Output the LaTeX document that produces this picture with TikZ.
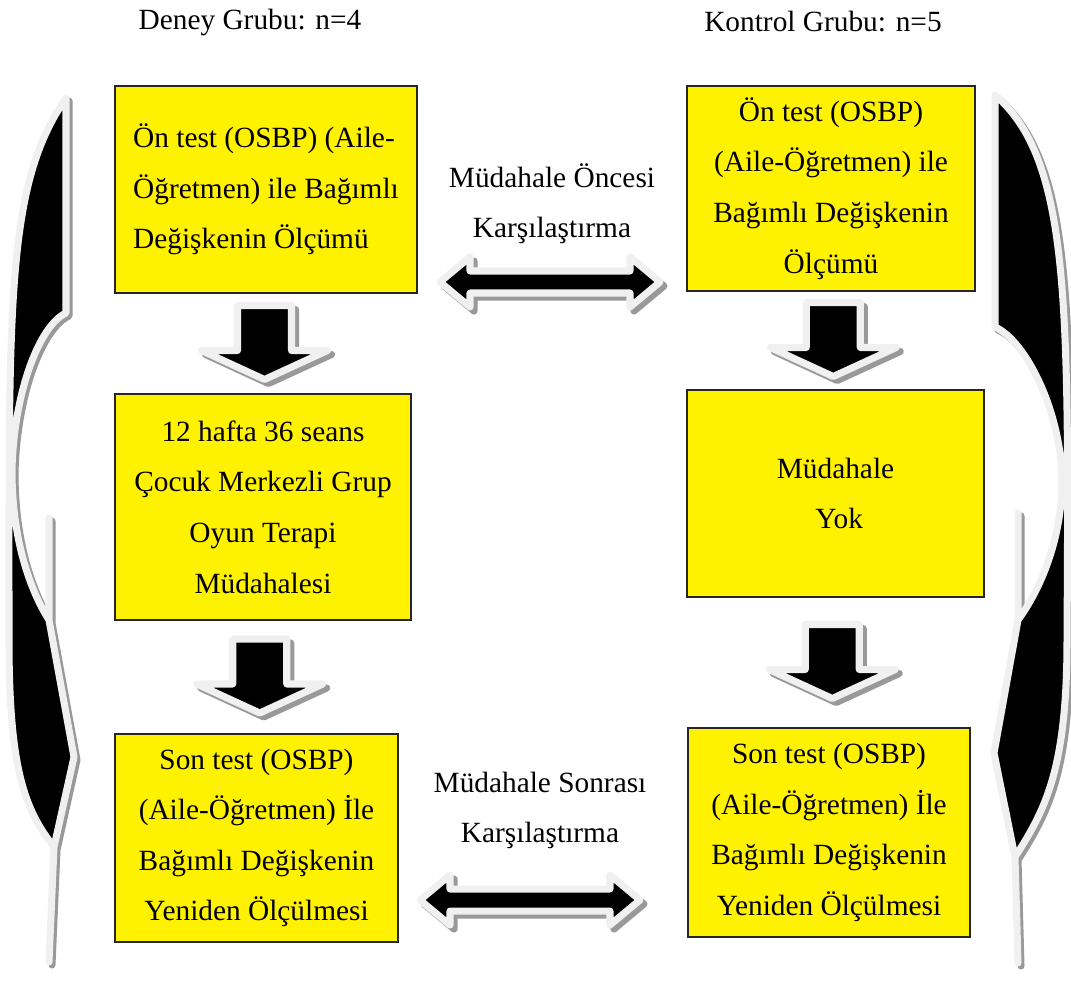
\documentclass[tikz,border=0pt]{standalone}
\usepackage{fontspec}
\setmainfont{Liberation Serif}
\usetikzlibrary{calc}
\definecolor{rim}{HTML}{F0F0F0}
\definecolor{shade}{HTML}{999999}

\begin{document}
\begin{tikzpicture}[x=0.02cm, y=-0.02cm]
		\tikzset{
		    tbox/.style= {draw=black!85, fill=yellow, line width=0.9pt, font=\fontsize{16.7}{28.8}\selectfont, align=center, inner sep=0pt},
		    tlabel/.style= {font=\fontsize{16.7}{28.5}\selectfont, align=center},
		    brim/.style= {draw=rim, fill=black, line width=4pt, line join=round},
		    bshade/.style= {draw=shade, fill=shade, line width=4pt, line join=round},
		    pics/downarrow/.style= {code={
		        \foreach \s/\d in {bshade/4, brim/0}
		            \draw[\s, shift={(\d,\d)}] (-27,-38) -- (27,-38) -- (27,7) -- (63,7) -- (0,36) -- (-63,7) -- (-27,7) -- cycle;
		    }},
		    pics/duoarrow/.style= {code={
		        \foreach \s/\d in {bshade/4, brim/0}
		            \draw[\s, shift={(\d,\d)}] (-110,0) -- (-80,-25) -- (-80,-11) -- (80,-11) -- (80,-25) -- (110,0) -- (80,25) -- (80,11) -- (-80,11) -- (-80,25) -- cycle;
		    }},
		}
		\useasboundingbox (0,0) rectangle (1071,998);
		
		\foreach \s/\d in {bshade/3, brim/0} {
		    \draw[\s, shift={(\d,\d)}] (66,98) -- (66,313) .. controls (40,325) and (14,390) .. (12,470) .. controls (12,540) and (30,590) .. (49,620) -- (49,518) -- (49,620) -- (74,757) -- (54,847) -- (49,962) -- (54,847) .. controls (25,810) and (9,770) .. (9,640) .. controls (9,300) and (6,185) .. (66,98) -- cycle;
		    \draw[\s, shift={(\d,\d)}] (995,95) -- (995,327) .. controls (1025,340) and (1061,410) .. (1062,480) .. controls (1062,540) and (1040,590) .. (1018,620) -- (1018,513) -- (1018,620) -- (994,753) -- (1015,857) -- (1018,963) -- (1015,857) .. controls (1045,810) and (1067,770) .. (1067,640) .. controls (1069,300) and (1070,160) .. (995,95) -- cycle;
		}
		
		\node[tlabel] (hd) at (250,22) {Deney Grubu: n=4};
		\node[tlabel] (hk) at (823,22) {Kontrol Grubu: n=5};
		
		\node[tbox, align=left, minimum width=6.04cm, minimum height=4.14cm] (d1) at (266,189.5) {Ön test (OSBP) (Aile-\\Öğretmen) ile Bağımlı\\Değişkenin Ölçümü};
		\node[tbox, minimum width=5.92cm, minimum height=4.52cm] (d2) at (263,507) {12 hafta 36 seans\\Çocuk Merkezli Grup\\Oyun Terapi\\Müdahalesi};
		\node[tbox, minimum width=5.66cm, minimum height=4.16cm] (d3) at (256.5,838) {Son test (OSBP)\\(Aile-Öğretmen) İle\\Bağımlı Değişkenin\\Yeniden Ölçülmesi};
		
		\node[tbox, minimum width=5.76cm, minimum height=4.10cm] (k1) at (831,188.5) {Ön test (OSBP)\\(Aile-Öğretmen) ile\\Bağımlı Değişkenin\\Ölçümü};
		\node[tbox, minimum width=5.94cm, minimum height=4.14cm] (k2) at (835.5,493.5) {Müdahale\\\ Yok};
		\node[tbox, minimum width=5.64cm, minimum height=4.18cm] (k3) at (829,832.5) {Son test (OSBP)\\(Aile-Öğretmen) İle\\Bağımlı Değişkenin\\Yeniden Ölçülmesi};
		
		\node[tlabel] (lpre) at (552,204) {Müdahale Öncesi\\Karşılaştırma};
		\node[tlabel] (lpost) at (540,810) {Müdahale Sonrası\\Karşılaştırma};
		
		\pic at ($(d1.south)!0.5!(d2.north)$) {downarrow};
		\pic at ($(d2.south)!0.5!(d3.north)$) {downarrow};
		\pic at ($(k1.south)!0.5!(k2.north)$) {downarrow};
		\pic at ($(k2.south)!0.5!(k3.north)$) {downarrow};
		
		\pic at (550,282) {duoarrow};
		\pic at (530,900) {duoarrow};
	\end{tikzpicture}
\end{document}
